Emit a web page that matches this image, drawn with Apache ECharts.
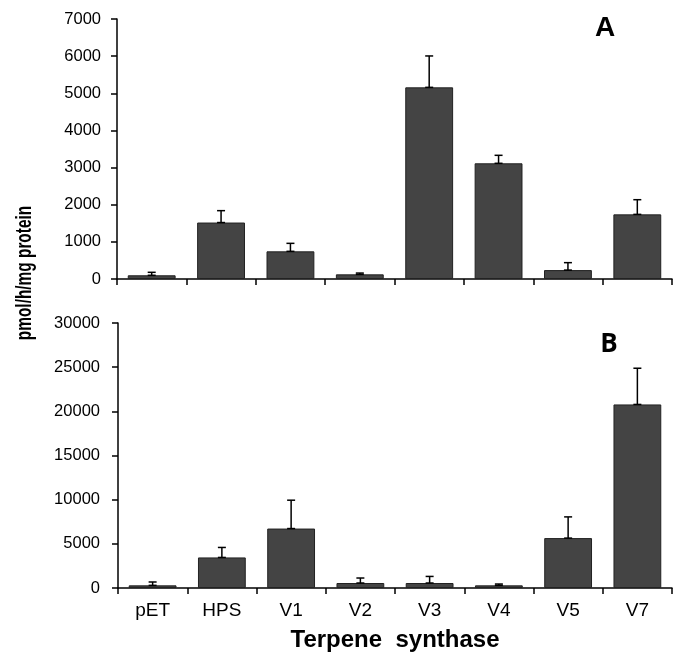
<!DOCTYPE html>
<html>
<head>
<meta charset="utf-8">
<script src="https://cdn.jsdelivr.net/npm/echarts@6/dist/echarts.min.js"></script>
<style>
  html, body { margin: 0; padding: 0; background: #fff; }
  #main { width: 673px; height: 654px; }
</style>
</head>
<body>
<div id="main"></div>
<script>
// terpene synthase activity, pmol/h/mg protein
var categories = ['pET', 'HPS', 'V1', 'V2', 'V3', 'V4', 'V5', 'V7'];
var activityA = [100, 1520, 745, 125, 5160, 3115, 240, 1740];
var errorA = [80, 320, 215, 35, 845, 215, 200, 395];
var activityB = [300, 3460, 6730, 565, 565, 300, 5650, 20780];
var errorB = [380, 1130, 3210, 565, 745, 150, 2400, 4100];

var FONT = 'Liberation Sans, Arial, sans-serif';

function errData(vals, errs) {
    return vals.map(function (v, i) { return [i, v, errs[i]]; });
}

function renderErr(params, api) {
    var i = api.value(0);
    var v = api.value(1);
    var e = api.value(2);
    var base = api.coord([i, v]);
    var top = api.coord([i, v + e]);
    var hw = 4;
    var st = { stroke: '#000', lineWidth: 1.5 };
    return {
        type: 'group',
        children: [
            { type: 'line', shape: { x1: base[0], y1: base[1], x2: top[0], y2: top[1] }, style: st },
            { type: 'line', shape: { x1: top[0] - hw, y1: top[1], x2: top[0] + hw, y2: top[1] }, style: st },
            { type: 'line', shape: { x1: base[0] - hw, y1: base[1], x2: base[0] + hw, y2: base[1] }, style: st }
        ]
    };
}

var axisLine = { show: true, lineStyle: { color: '#000', width: 1.5 } };
var axisTick = { show: true, length: 6, lineStyle: { color: '#000', width: 1.5 } };
var plain = function (v) { return String(v); };

var chart = echarts.init(document.getElementById('main'));
var option = {
    animation: false,
    grid: [
        { left: 117, right: 1, top: 19, height: 260 },
        { left: 118, right: 1, top: 323, height: 265 }
    ],
    xAxis: [
        {
            type: 'category', gridIndex: 0, data: categories,
            axisLine: axisLine, axisTick: axisTick,
            axisLabel: { show: false }
        },
        {
            type: 'category', gridIndex: 1, data: categories,
            axisLine: axisLine, axisTick: axisTick,
            axisLabel: { color: '#000', fontFamily: FONT, fontSize: 19, margin: 13 },
            name: 'Terpene  synthase', nameLocation: 'middle', nameGap: 40,
            nameTextStyle: { color: '#000', fontFamily: FONT, fontSize: 24, fontWeight: 'bold' }
        }
    ],
    yAxis: [
        {
            type: 'value', gridIndex: 0, min: 0, max: 7000, interval: 1000,
            axisLine: axisLine, axisTick: axisTick, splitLine: { show: false },
            axisLabel: { color: '#000', fontFamily: FONT, fontSize: 16.5, margin: 16, formatter: plain }
        },
        {
            type: 'value', gridIndex: 1, min: 0, max: 30000, interval: 5000,
            axisLine: axisLine, axisTick: axisTick, splitLine: { show: false },
            axisLabel: { color: '#000', fontFamily: FONT, fontSize: 16.5, margin: 18, formatter: plain }
        }
    ],
    graphic: [
        {
            type: 'text', x: 25, y: 273, rotation: Math.PI / 2, scaleX: 0.7,
            style: {
                text: 'pmol/h/mg protein', fill: '#000', font: 'bold 22px ' + FONT,
                align: 'center', verticalAlign: 'middle'
            }
        },
        {
            type: 'text', x: 605, y: 28,
            style: { text: 'A', fill: '#000', font: 'bold 28px ' + FONT, align: 'center', verticalAlign: 'middle' }
        },
        {
            type: 'text', x: 609, y: 345,
            style: { text: 'B', fill: '#000', font: 'bold 26px "Open Sans", ' + FONT, align: 'center', verticalAlign: 'middle' }
        }
    ],
    series: [
        {
            type: 'bar', xAxisIndex: 0, yAxisIndex: 0, data: activityA,
            barCategoryGap: '31%',
            itemStyle: { color: '#444', borderColor: '#222', borderWidth: 1 }
        },
        {
            type: 'custom', xAxisIndex: 0, yAxisIndex: 0, data: errData(activityA, errorA),
            renderItem: renderErr, encode: { x: 0, y: 1 }, z: 5
        },
        {
            type: 'bar', xAxisIndex: 1, yAxisIndex: 1, data: activityB,
            barCategoryGap: '31%',
            itemStyle: { color: '#444', borderColor: '#222', borderWidth: 1 }
        },
        {
            type: 'custom', xAxisIndex: 1, yAxisIndex: 1, data: errData(activityB, errorB),
            renderItem: renderErr, encode: { x: 0, y: 1 }, z: 5
        }
    ]
};
chart.setOption(option);
</script>
</body>
</html>
